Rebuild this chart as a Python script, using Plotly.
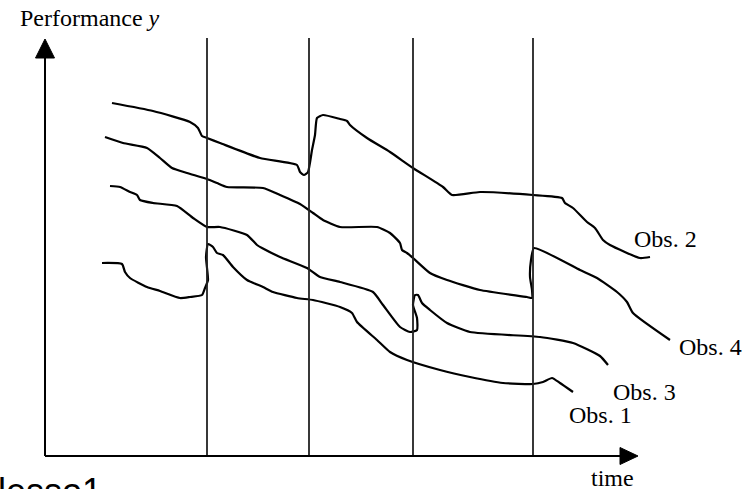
import plotly.graph_objects as go

# time / performance readings (time origin at the y axis, performance origin at the x axis)
obs2_t = [67, 108, 145, 153, 157, 162, 175, 215, 252, 255, 259, 263, 267, 270, 272, 278, 295, 302, 305, 322, 345, 368, 398, 407, 435, 488, 517, 520, 528, 542, 550, 558, 565, 595, 605]
obs2_y = [353, 345, 334, 328, 320, 318, 313, 298, 291, 284, 281, 284, 306, 321, 338, 341, 337, 335, 331, 318, 304, 288, 269, 261, 264, 261, 258, 253, 248, 234, 228, 216, 211, 198, 199]

obs4_t = [60, 78, 102, 115, 127, 142, 162, 172, 182, 218, 235, 255, 268, 278, 295, 332, 345, 355, 357, 362, 368, 385, 402, 435, 482, 487, 487, 485, 486, 489, 535, 552, 572, 582, 588, 625]
obs4_y = [319, 313, 308, 298, 288, 283, 277, 273, 269, 268, 261, 252, 243, 236, 229, 229, 223, 213, 206, 203, 198, 183, 176, 166, 159, 158, 166, 179, 196, 208, 186, 178, 164, 154, 143, 116]

obs3_t = [65, 75, 85, 92, 95, 108, 132, 148, 162, 175, 202, 212, 217, 235, 262, 275, 295, 328, 338, 355, 365, 372, 372, 368, 370, 373, 377, 385, 402, 425, 495, 528, 555, 563]
obs3_y = [270, 269, 264, 261, 256, 253, 250, 238, 229, 229, 221, 211, 208, 199, 188, 179, 174, 164, 151, 129, 124, 126, 138, 151, 161, 161, 153, 146, 133, 124, 119, 113, 100, 91]

obs1_t = [57, 77, 80, 85, 102, 115, 135, 145, 157, 160, 163, 161, 163, 168, 172, 178, 188, 202, 218, 228, 252, 268, 295, 307, 312, 332, 345, 362, 395, 425, 458, 488, 498, 507, 515, 528]
obs1_y = [193, 192, 184, 178, 169, 165, 158, 159, 161, 168, 176, 199, 212, 209, 203, 201, 189, 176, 169, 164, 158, 156, 149, 143, 134, 116, 104, 96, 86, 79, 73, 72, 74, 78, 73, 64]

phase_bounds = [162, 264, 368, 488]
phase_top = 418
y_axis_top = 417
x_axis_end = 593

labels = ["Obs. 2", "Obs. 4", "Obs. 3", "Obs. 1"]
label_t = [587, 632, 566, 522]
label_y = [217.5, 109.5, 64.5, 41]

fig = go.Figure()
for t, y in [(obs2_t, obs2_y), (obs4_t, obs4_y), (obs3_t, obs3_y), (obs1_t, obs1_y)]:
    fig.add_trace(go.Scatter(x=t, y=y, mode="lines",
                             line=dict(color="black", width=2.2, shape="spline", smoothing=0.5),
                             showlegend=False, hoverinfo="skip"))

shapes = []
for b in phase_bounds:
    shapes.append(dict(type="line", xref="x", yref="y", x0=b, x1=b, y0=0, y1=phase_top,
                       line=dict(color="#222222", width=1.8)))
# axes
shapes.append(dict(type="line", xref="x", yref="y", x0=0, x1=0, y0=0, y1=y_axis_top - 18,
                   line=dict(color="black", width=2)))
shapes.append(dict(type="line", xref="x", yref="y", x0=0, x1=x_axis_end - 18, y0=0, y1=0,
                   line=dict(color="black", width=2)))
shapes.append(dict(type="path", xref="x", yref="y",
                   path=f"M 0 {y_axis_top} L -9.5 {y_axis_top-19} L 9.5 {y_axis_top-19} Z",
                   fillcolor="black", line=dict(color="black", width=1)))
shapes.append(dict(type="path", xref="x", yref="y",
                   path=f"M {x_axis_end} 0 L {x_axis_end-18} 8.5 L {x_axis_end-18} -8.5 Z",
                   fillcolor="black", line=dict(color="black", width=1)))

serif = "Liberation Serif, Times New Roman, serif"
annotations = []
for txt, tx, ty in zip(labels, label_t, label_y):
    annotations.append(dict(x=tx, y=ty, xref="x", yref="y", text=txt, showarrow=False,
                            xanchor="left", yanchor="middle", font=dict(family=serif, size=24, color="black")))
annotations.append(dict(x=544, y=-22, xref="x", yref="y", text="time", showarrow=False,
                        xanchor="left", yanchor="middle", font=dict(family=serif, size=24, color="black")))
annotations.append(dict(x=-27, y=438, xref="x", yref="y", text="Performance <i>y</i>", showarrow=False,
                        xanchor="left", yanchor="middle", font=dict(family=serif, size=24, color="black")))
annotations.append(dict(x=-0.005, y=-0.006, xref="paper", yref="paper", text="lesso1", showarrow=False,
                        xanchor="left", yanchor="middle",
                        font=dict(family="Liberation Sans, Arial, sans-serif", size=36, color="black")))

fig.update_layout(
    width=749, height=489,
    margin=dict(l=0, r=0, t=0, b=0),
    paper_bgcolor="white", plot_bgcolor="white",
    xaxis=dict(range=[-45, 704], visible=False, fixedrange=True),
    yaxis=dict(range=[-33, 456], visible=False, fixedrange=True),
    shapes=shapes, annotations=annotations,
)
fig.write_html("out.html", config=dict(displayModeBar=False),
               post_script="document.body.style.margin='0';document.body.style.overflow='hidden';")
